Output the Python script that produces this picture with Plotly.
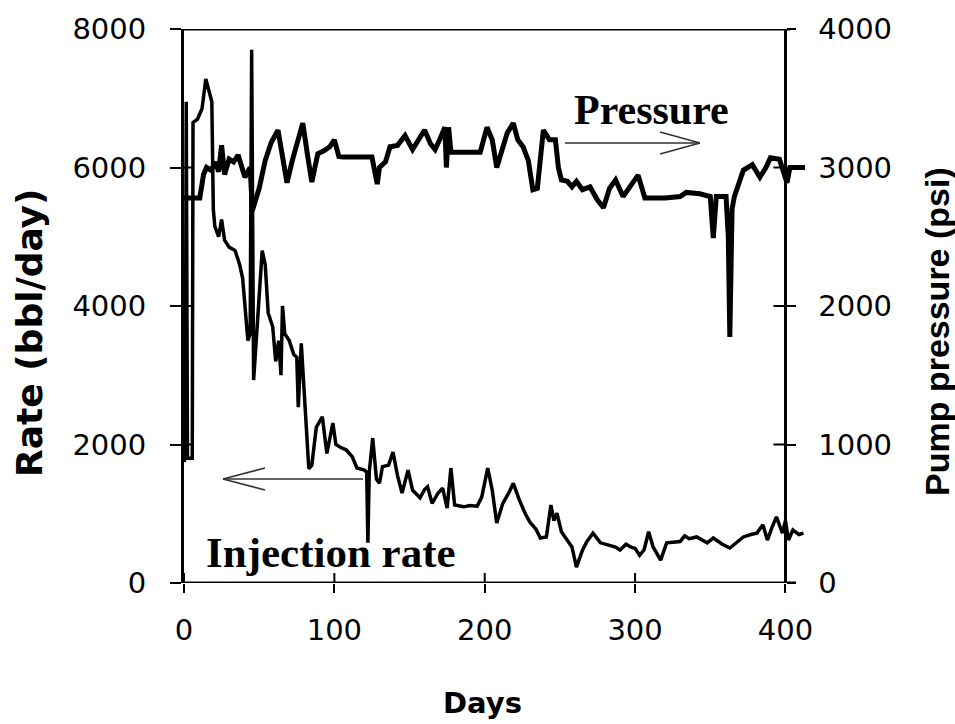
import plotly.graph_objects as go

# ---- data -------------------------------------------------------------
rate_days = [0, 0.8, 1.5, 2.3, 5.5, 6, 9, 12, 14.5, 16.5, 18.5, 19.5, 20.5, 23, 25, 27, 30, 34,
             37, 39, 41, 42.5, 44, 45, 46.3, 49, 52, 54, 56, 59, 61, 63, 64.5, 65.5, 67, 70,
             73, 75, 76, 78, 80, 83, 85, 88, 92, 95, 99, 101, 104, 108, 112, 115, 120, 121.5,
             122.3, 123.2, 125.5, 128, 130, 132, 136, 139, 142, 145, 149, 152, 157, 160, 162,
             165, 169, 172, 175, 177.5, 180, 186, 190, 195, 198, 202, 205, 208, 212, 216, 219,
             223, 227, 230, 234, 237, 241, 244, 246, 248, 251, 255, 258, 261, 265, 268, 272,
             277, 283, 287, 290, 294, 297, 300, 303, 306, 309, 312, 317, 321, 325, 330, 333,
             336, 341, 345, 348, 352, 358, 363, 368, 372, 377, 381, 385, 388, 391, 394, 398,
             400, 402, 405, 409, 412]
rate_values = [1750, 1800, 6950, 1800, 1800, 6650, 6700, 6850, 7280, 7100, 6950, 5400, 5150,
               5000, 5250, 4950, 4850, 4800, 4600, 4400, 3800, 3500, 3600, 7700, 2930, 3900,
               4800, 4600, 3900, 3700, 3200, 3500, 3000, 4000, 3600, 3500, 3300, 3260, 2540,
               3460, 2800, 1650, 1700, 2250, 2400, 1870, 2310, 2000, 1960, 1920, 1820, 1660,
               1630, 1600, 580, 1600, 2090, 1500, 1440, 1680, 1700, 1890, 1550, 1300, 1630,
               1340, 1230, 1350, 1390, 1150, 1300, 1370, 1080, 1660, 1125, 1100, 1120, 1110,
               1240, 1660, 1340, 865, 1150, 1300, 1440, 1200, 1000, 880, 780, 650, 665, 1125,
               900, 1010, 740, 620, 520, 230, 475, 600, 720, 580, 550, 520, 475, 560, 520, 500,
               400, 480, 740, 520, 330, 580, 590, 600, 680, 640, 665, 620, 580, 650, 560, 505,
               600, 665, 700, 720, 840, 620, 800, 955, 720, 900, 620, 765, 700, 720]

pressure_days = [0, 10.5, 13, 15, 18, 21, 23, 25, 27, 30, 33, 36, 40.5, 44, 45.5, 47, 50, 54,
                 58, 62.5, 65, 68.5, 72, 76, 79, 82, 85, 89, 93, 97, 100, 103, 106, 125, 127,
                 128.5, 130, 134, 137, 142, 147, 152, 156, 160, 164, 167, 170, 173.5, 174.5,
                 176, 177.5, 197, 201.5, 205, 208, 211, 215, 219, 222, 225.5, 229, 232, 235,
                 239, 243, 247, 249, 251, 255, 258, 261, 265, 270, 275, 279, 283, 287, 292,
                 296, 302, 306.5, 320, 330, 334, 343, 350, 352, 354, 360.5, 362, 363, 364.5,
                 366, 369, 372, 378, 383, 387, 390, 396, 399, 401, 403, 413]
pressure_values = [2780, 2780, 2950, 3000, 2980, 3040, 2970, 3160, 2950, 3060, 3040, 3090,
                   2930, 3000, 2690, 2750, 2850, 3050, 3180, 3270, 3100, 2890, 3050, 3200,
                   3320, 3100, 2895, 3100, 3120, 3150, 3200, 3080, 3075, 3075, 2980, 2880,
                   3000, 3040, 3150, 3160, 3230, 3130, 3200, 3270, 3170, 3130, 3200, 3290,
                   3000, 3290, 3110, 3110, 3290, 3200, 3000, 3100, 3250, 3320, 3200, 3150,
                   3050, 2840, 2850, 3270, 3200, 3200, 3000, 2910, 2900, 2860, 2900, 2840,
                   2860, 2765, 2710, 2850, 2910, 2790, 2850, 2945, 2780, 2780, 2790, 2820,
                   2810, 2790, 2490, 2790, 2790, 2500, 1776, 2700, 2790, 2900, 2980, 3020,
                   2930, 3000, 3070, 3060, 2950, 2890, 3000, 3000]

day_ticks = [0, 100, 200, 300, 400]
rate_ticks = [0, 2000, 4000, 6000, 8000]
pressure_ticks = [0, 1000, 2000, 3000, 4000]

# ---- layout constants -------------------------------------------------
W, H = 955, 724
X_RANGE = [0, 413]
X_DOMAIN = [184 / W, 805 / W]
Y_DOMAIN = [(H - 583) / H, (H - 29) / H]
RIGHT_AXIS_DAY = 400
right_pos = X_DOMAIN[0] + (RIGHT_AXIS_DAY - X_RANGE[0]) / (X_RANGE[1] - X_RANGE[0]) * (X_DOMAIN[1] - X_DOMAIN[0])

TICK_FONT = dict(family="DejaVu Sans", size=29, color="black")


def px(x, y):
    """pixel position -> paper coordinates"""
    return x / W, 1 - y / H


fig = go.Figure()
fig.add_trace(go.Scatter(x=rate_days, y=rate_values, mode="lines",
                         line=dict(color="black", width=3.5), yaxis="y", name="Injection rate"))
fig.add_trace(go.Scatter(x=pressure_days, y=pressure_values, mode="lines",
                         line=dict(color="black", width=5), yaxis="y2", name="Pressure"))

shapes = []
# frame: bottom and top edges
shapes.append(dict(type="line", xref="x", yref="y", x0=0, x1=407, y0=0, y1=0,
                   line=dict(color="black", width=3)))
shapes.append(dict(type="line", xref="x", yref="y", x0=0, x1=403, y0=8000, y1=8000,
                   line=dict(color="black", width=3)))
# inner halves of the crossing tick marks
for v in day_ticks:
    shapes.append(dict(type="line", xref="x", yref="y", x0=v, x1=v, ysizemode="pixel",
                       yanchor=0, y0=0, y1=10, line=dict(color="black", width=2)))
for v in rate_ticks:
    shapes.append(dict(type="line", xref="x", yref="y", y0=v, y1=v, xsizemode="pixel",
                       xanchor=0, x0=0, x1=9, line=dict(color="black", width=2)))
for v in pressure_ticks:
    shapes.append(dict(type="line", xref="x", yref="y2", y0=v, y1=v, xsizemode="pixel",
                       xanchor=RIGHT_AXIS_DAY, x0=-12, x1=0, line=dict(color="black", width=2)))


# annotation arrows (open arrowheads)
def arrow(x_from, x_to, y, head_dx, head_dy):
    s = []
    a = px(x_from, y)
    b = px(x_to, y)
    s.append(dict(type="line", xref="paper", yref="paper", x0=a[0], y0=a[1], x1=b[0], y1=b[1],
                  line=dict(color="#333", width=1.6)))
    for dy in (-head_dy, head_dy):
        c = px(x_to + head_dx, y + dy)
        s.append(dict(type="line", xref="paper", yref="paper", x0=c[0], y0=c[1], x1=b[0], y1=b[1],
                      line=dict(color="#333", width=1.6)))
    return s


shapes += arrow(565, 700, 143, -40, 11)
shapes += arrow(363, 223, 479, 42, 11)

annotations = [
    dict(text="<b>Pressure</b>", xref="paper", yref="paper", x=px(651, 0)[0], y=px(0, 110)[1],
         showarrow=False, font=dict(family="Liberation Serif", size=42, color="black"),
         xanchor="center", yanchor="middle"),
    dict(text="<b>Injection rate</b>", xref="paper", yref="paper", x=px(331, 0)[0], y=px(0, 552)[1],
         showarrow=False, font=dict(family="Liberation Serif", size=43, color="black"),
         xanchor="center", yanchor="middle"),
    dict(text="<b>Rate (bbl/day)</b>", xref="paper", yref="paper", x=px(29, 0)[0], y=px(0, 333)[1],
         showarrow=False, textangle=-90, font=dict(family="DejaVu Sans", size=36, color="black"),
         xanchor="center", yanchor="middle"),
    dict(text="<b>Pump pressure (psi)</b>", xref="paper", yref="paper", x=px(937, 0)[0],
         y=px(0, 332)[1], showarrow=False, textangle=-90,
         font=dict(family="Liberation Sans", size=34, color="black"),
         xanchor="center", yanchor="middle"),
    dict(text="<b>Days</b>", xref="paper", yref="paper", x=px(482, 0)[0], y=px(0, 703)[1],
         showarrow=False, font=dict(family="DejaVu Sans", size=29, color="black"),
         xanchor="center", yanchor="middle"),
]

fig.update_layout(
    width=W, height=H, margin=dict(l=0, r=0, t=0, b=0),
    paper_bgcolor="white", plot_bgcolor="white", showlegend=False,
    xaxis=dict(domain=X_DOMAIN, range=X_RANGE, showline=False, showgrid=False, zeroline=False,
               tickvals=day_ticks, ticks="outside", ticklen=9, tickwidth=2, tickcolor="black",
               tickfont=TICK_FONT, ticklabelstandoff=12, automargin=False),
    yaxis=dict(domain=Y_DOMAIN, range=[0, 8000], showline=True, linewidth=3, linecolor="black",
               showgrid=False, zeroline=False, tickvals=rate_ticks, ticks="outside", ticklen=11,
               tickwidth=2, tickcolor="black", tickfont=TICK_FONT, ticklabelstandoff=18,
               automargin=False),
    yaxis2=dict(overlaying="y", side="right", anchor="free", position=right_pos,
                range=[0, 4000], showline=True, linewidth=3, linecolor="black", showgrid=False,
                zeroline=False, tickvals=pressure_ticks, ticks="outside", ticklen=9, tickwidth=2,
                tickcolor="black", tickfont=TICK_FONT, ticklabelstandoff=16, automargin=False),
    shapes=shapes, annotations=annotations,
)

fig.write_html("out.html")
